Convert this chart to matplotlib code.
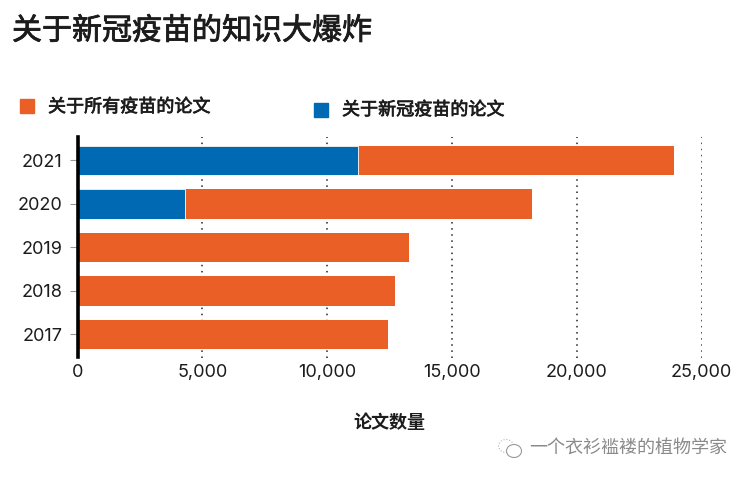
import matplotlib
matplotlib.use("Agg")
import matplotlib.pyplot as plt
import matplotlib.patheffects as pe
from matplotlib.patches import Ellipse, Rectangle

years = ["2017", "2018", "2019", "2020", "2021"]
all_vaccine = [12430, 12720, 13280, 18220, 23880]
covid_vaccine = [0, 0, 0, 4300, 11230]
x_ticks = [0, 5000, 10000, 15000, 20000, 25000]

ORANGE = "#ea5f26"
BLUE = "#0069b4"
TEXT = "#1c1c1c"
W, H = 751, 480

plt.rcParams["font.family"] = ["Noto Sans CJK SC", "DejaVu Sans"]


def add_text(px, py, s, size, stroke=0.0, **kwargs):
    # positions given in pixels from the top left of the image
    color = kwargs.pop("color", TEXT)
    t = fig.text(px / W, 1 - py / H, s, fontsize=size, color=color, va="center", **kwargs)
    if stroke:
        # no medium weight installed, thicken the regular one a little
        t.set_path_effects([pe.withStroke(linewidth=stroke, foreground=color)])
    return t


def add_square(px, py, color):
    fig.add_artist(Rectangle((px / W, 1 - (py + 14) / H), 14 / W, 14 / H, transform=fig.transFigure, color=color))


fig = plt.figure(figsize=(W / 100, H / 100), dpi=100)
ax = fig.add_axes([77.5 / W, 1 - 357.5 / H, (701.5 - 77.5) / W, (357.5 - 137) / H])

y = list(range(len(years)))
ax.barh(y, all_vaccine, height=0.67, color=ORANGE, zorder=2)
ax.barh(y, covid_vaccine, height=0.67, color=BLUE, edgecolor="white", linewidth=0.6, zorder=3)

ax.set_xlim(0, 25000)
ax.set_ylim(-0.53, 4.54)
ax.set_yticks(y, years, family="Inter")
ax.set_xticks(x_ticks, [f"{v:,}" for v in x_ticks], family="Inter")
ax.tick_params(axis="x", length=0, labelsize=13, pad=5, labelcolor=TEXT)
ax.tick_params(axis="y", length=6, width=0.8, color="#999999", labelsize=13, pad=5, labelcolor=TEXT)
ax.grid(axis="x", linestyle=(0, (1, 3)), color="#222222", linewidth=1.1, zorder=1)
ax.xaxis.get_gridlines()[0].set_visible(False)

for side in ["top", "right", "bottom"]:
    ax.spines[side].set_visible(False)
ax.spines["left"].set_linewidth(2.6)
ax.spines["left"].set_color("#000000")
ax.spines["left"].set_zorder(5)

add_text(12, 31, "关于新冠疫苗的知识大爆炸", 21.6, stroke=0.6, ha="left")

add_square(20, 99, ORANGE)
add_text(48, 107, "关于所有疫苗的论文", 13, stroke=0.5)
add_square(314, 103, BLUE)
add_text(342, 110, "关于新冠疫苗的论文", 13, stroke=0.5)

add_text(389.5, 422, "论文数量", 13, fontweight="bold", ha="center")

# watermark: two small speech bubbles and the account name
fig.add_artist(Ellipse((506 / W, 1 - 446 / H), 15 / W, 13 / H, transform=fig.transFigure,
                       facecolor="none", edgecolor="#b5b5b5", linewidth=0.8, linestyle=":"))
fig.add_artist(Ellipse((514 / W, 1 - 451 / H), 15 / W, 13 / H, transform=fig.transFigure,
                       facecolor="white", edgecolor="#9a9a9a", linewidth=0.8))
add_text(727, 449, "一个衣衫褴褛的植物学家", 13, color="#8a8a8a", ha="right")

fig.savefig("out.png", dpi=100)
